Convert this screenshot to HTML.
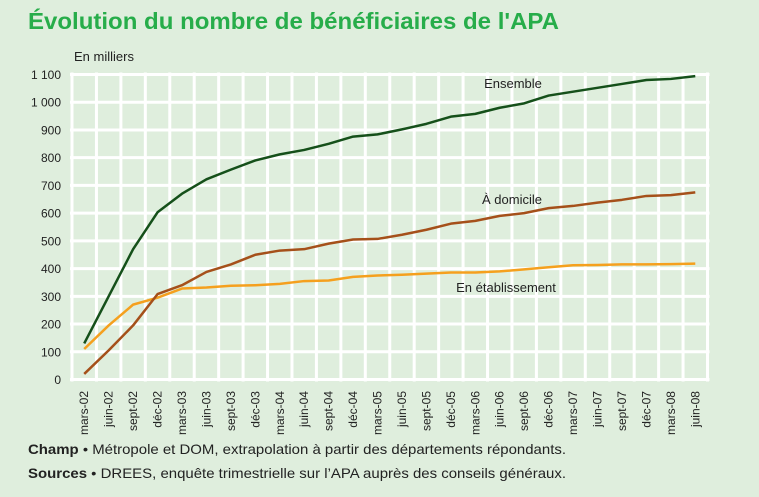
<!DOCTYPE html>
<html><head><meta charset="utf-8"><style>
body{margin:0;background:#dfeedd;width:759px;height:497px;overflow:hidden;font-family:"Liberation Sans",sans-serif}
svg{position:absolute;left:0;top:0}
</style></head><body>
<svg width="759" height="497" xmlns="http://www.w3.org/2000/svg">
<rect width="759" height="497" fill="#dfeedd"/>
<text x="28" y="29" font-size="23" font-weight="bold" fill="#27ad4a" textLength="531" lengthAdjust="spacingAndGlyphs">Évolution du nombre de bénéficiaires de l'APA</text>
<text x="74" y="61" font-size="13" fill="#222">En milliers</text>
<g id="grid"></g>
<g id="yt"></g>
<g id="xt"></g>
<g id="lines"></g>
<text x="513" y="88" font-size="13" fill="#222" text-anchor="middle">Ensemble</text>
<text x="512" y="204" font-size="13" fill="#222" text-anchor="middle">À domicile</text>
<text x="506" y="292" font-size="13" fill="#222" text-anchor="middle">En établissement</text>
<text x="28" y="454" font-size="14" fill="#222" textLength="538" lengthAdjust="spacingAndGlyphs"><tspan font-weight="bold">Champ</tspan> • Métropole et DOM, extrapolation à partir des départements répondants.</text>
<text x="28" y="478" font-size="14" fill="#222" textLength="538" lengthAdjust="spacingAndGlyphs"><tspan font-weight="bold">Sources</tspan> • DREES, enquête trimestrielle sur l’APA auprès des conseils généraux.</text>
</svg>
<script>
const categories=["mars-02","juin-02","sept-02","déc-02","mars-03","juin-03","sept-03","déc-03","mars-04","juin-04","sept-04","déc-04","mars-05","juin-05","sept-05","déc-05","mars-06","juin-06","sept-06","déc-06","mars-07","juin-07","sept-07","déc-07","mars-08","juin-08"];
const ensemble=[130,300,470,603,670,722,757,790,812,828,850,876,884,902,922,948,958,980,996,1024,1038,1052,1066,1080,1084,1094];
const domicile=[20,105,195,308,340,388,415,450,465,470,490,505,507,522,540,562,572,590,600,618,626,638,648,662,665,675];
const etablissement=[110,195,270,295,328,332,338,340,345,355,357,370,375,378,382,386,386,390,397,405,412,413,415,415,416,418];
const yTicks=[0,100,200,300,400,500,600,700,800,900,1000,1100];
const yTickLabels=["0","100","200","300","400","500","600","700","800","900","1 000","1 100"];
const NS="http://www.w3.org/2000/svg";
const L=72,R=707.5,T=74.5,B=379.5,ymax=1100;
const bw=(R-L)/categories.length;
const xs=i=>L+bw*(i+0.5);
const ys=v=>B-(v/ymax)*(B-T);
function mk(tag,at,parent){const e=document.createElementNS(NS,tag);for(const k in at)e.setAttribute(k,at[k]);parent.appendChild(e);return e;}
const grid=document.getElementById('grid');
yTicks.forEach((t,i)=>{
  const l=mk('line',{x1:L-2,x2:R+2,y1:ys(t),y2:ys(t),stroke:'#fff','stroke-width':3},grid);
  
  
  const tx=mk('text',{x:61,y:ys(t)+4.5,'font-size':12,'text-anchor':'end',fill:'#222'},document.getElementById('yt'));
  tx.textContent=yTickLabels[i];
  
  
});
for(let i=0;i<=categories.length;i++){
  const l=mk('line',{x1:L+bw*i,x2:L+bw*i,y1:T-2,y2:B+2,stroke:'#fff','stroke-width':3},grid);
  
  
}
categories.forEach((c,i)=>{
  const x=xs(i)+4;
  const t=mk('text',{x:x,y:391,'font-size':12,'text-anchor':'end',fill:'#222',transform:`rotate(-90 ${x} 391)`},document.getElementById('xt'));
  t.textContent=c;
  
  
});
const g=document.getElementById('lines');
[[etablissement,'#f5a01e','line-etablissement'],[domicile,'#a5501a','line-domicile'],[ensemble,'#15501a','line-ensemble']].forEach(([d,col,n])=>{
  const p=mk('polyline',{points:d.map((v,i)=>xs(i)+','+ys(v)).join(' '),fill:'none',stroke:col,'stroke-width':2.5,'stroke-linejoin':'round'},g);
  
  
});
</script>
</body></html>
